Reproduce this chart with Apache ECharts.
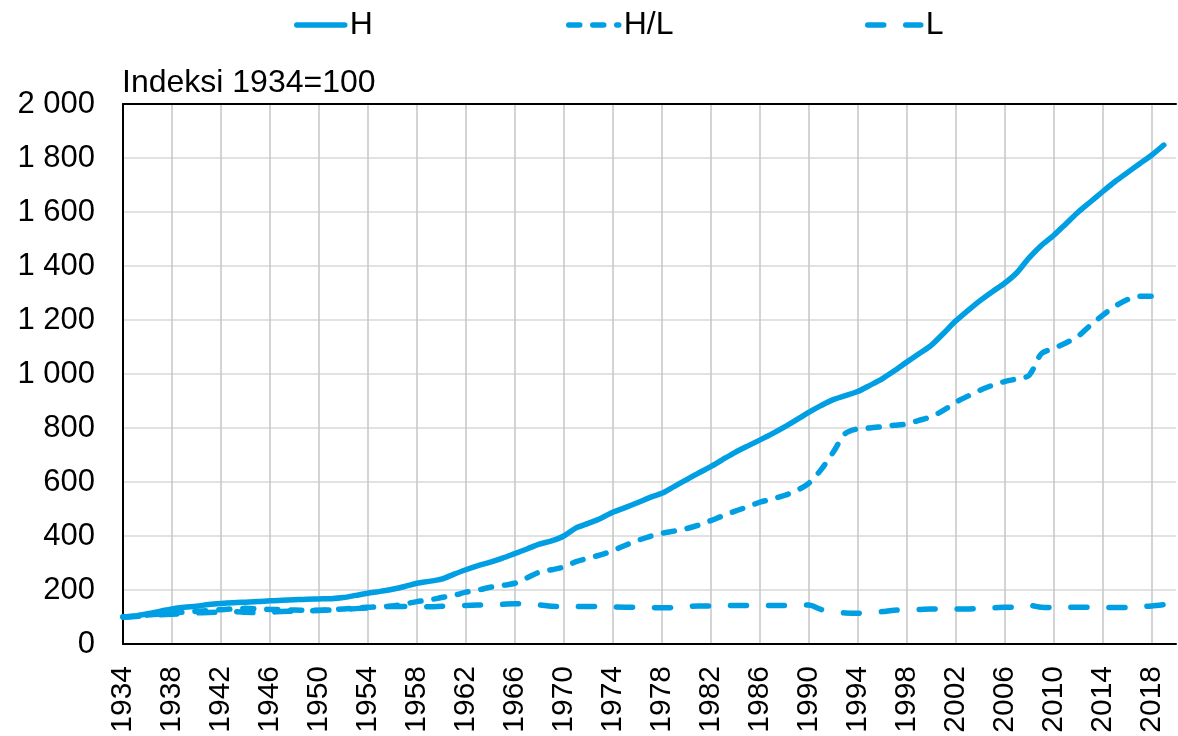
<!DOCTYPE html>
<html>
<head>
<meta charset="utf-8">
<script src="https://cdn.jsdelivr.net/npm/echarts@6/dist/echarts.min.js"></script>
<style>
  html, body { margin: 0; padding: 0; background: #ffffff; }
  #chart { width: 1178px; height: 736px; }
</style>
</head>
<body>
<div id="chart"></div>
<script>
/* ===== data ===== */
const years = [];
for (let y = 1934; y <= 2020; y++) years.push(String(y));

const seriesH = [
  100, 104, 112, 121, 130, 136, 140, 146, 150, 153,
  155, 157, 160, 162, 164, 166, 167, 168, 172, 180,
  188, 195, 203, 213, 225, 232, 240, 258, 275, 290,
  303, 318, 335, 352, 370, 382, 400, 430, 447, 465,
  488, 505, 523, 542, 558, 583, 608, 633, 657, 684,
  710, 733, 755, 778, 803, 830, 858, 883, 905, 920,
  935, 958, 982, 1012, 1044, 1075, 1106, 1150, 1196, 1235,
  1272, 1305, 1336, 1375, 1430, 1476, 1513, 1556, 1599, 1637,
  1675, 1712, 1745, 1778, 1810, 1848
];

const seriesHL = [
  100, 103, 107, 111, 115, 118, 121, 124, 127, 130,
  132, 130, 128, 127, 126, 125, 125, 127, 130, 133,
  136, 138, 141, 148, 157, 163, 172, 180, 192, 200,
  210, 217, 225, 245, 266, 275, 285, 305, 318, 330,
  346, 365, 383, 398, 410, 418, 427, 440, 457, 475,
  492, 508, 525, 537, 550, 568, 595, 645, 710, 780,
  797, 800, 805, 810, 815, 828, 842, 865, 895, 918,
  940, 958, 972, 982, 995, 1075, 1095, 1115, 1140, 1180,
  1217, 1250, 1275, 1288, 1288, 1290
];

const seriesL = [
  100, 102, 105, 108, 110, 113, 115, 117, 118, 120,
  118, 116, 118, 120, 122, 123, 124, 126, 128, 131,
  134, 137, 139, 139, 138, 138, 140, 142, 143, 144,
  145, 147, 149, 148, 145, 140, 139, 139, 139, 139,
  137, 136, 136, 135, 134, 135, 138, 141, 141, 142,
  143, 143, 143, 143, 143, 144, 144, 128, 119, 115,
  114, 117, 120, 125, 127, 128, 130, 130, 130, 130,
  132, 134, 136, 137, 143, 136, 135, 136, 136, 136,
  135, 135, 135, 138, 141, 146
];

const seriesNames = ['H', 'H/L', 'L'];
const yTicks = { min: 0, max: 2000, step: 200 };

/* ===== style ===== */
const theme = {
  blue: '#009fe3',
  text: '#000000',
  grid: '#d9d9d9',
  vgrid: '#c6c6c6',
  font: "'Liberation Sans', Arial, sans-serif",
};

function fmtThousands(v) {
  return String(v).replace(/\B(?=(\d{3})+(?!\d))/g, ' ');
}

// every 4th year gets a label and a grid line
const everyFourth = idx => idx % 4 === 0;

function lineSeries(name, data, dash) {
  return {
    name: name,
    type: 'line',
    data: data,
    symbol: 'none',
    smooth: 0.3,
    lineStyle: {
      color: theme.blue,
      width: 5.5,
      type: dash || 'solid',
      cap: 'round',
      join: 'round',
    },
    itemStyle: { color: theme.blue },
  };
}

function legendAt(left, name, width) {
  return {
    left: left,
    top: 4,
    data: [name],
    itemWidth: width,
    itemHeight: 14,
    itemGap: 0,
    itemStyle: { opacity: 0 },
    lineStyle: { width: 5.5, cap: 'round' },
    textStyle: { color: theme.text, fontSize: 32, fontFamily: theme.font },
    selectedMode: false,
  };
}

const chart = echarts.init(document.getElementById('chart'), null, { renderer: 'canvas' });
chart.setOption({
  backgroundColor: '#ffffff',
  animation: false,
  title: {
    text: 'Indeksi 1934=100',
    left: 122,
    top: 67,
    padding: 0,
    textStyle: { color: theme.text, fontSize: 32, fontWeight: 'normal', fontFamily: theme.font },
  },
  legend: [
    legendAt(289, 'H', 48),
    legendAt(561, 'H/L', 50),
    legendAt(860, 'L', 53),
  ],
  grid: { left: 123, right: 2, top: 104, bottom: 92, containLabel: false },
  xAxis: [
    {
      type: 'category',
      data: years,
      boundaryGap: false,
      axisLine: { show: true, lineStyle: { color: theme.text, width: 2 } },
      axisTick: { show: false, interval: everyFourth },
      axisLabel: {
        interval: everyFourth,
        rotate: 90,
        margin: 22,
        color: theme.text,
        fontSize: 30,
        fontFamily: theme.font,
      },
      splitLine: {
        show: true,
        interval: everyFourth,
        lineStyle: { color: theme.vgrid, width: 1.5 },
      },
    },
    {
      type: 'category',
      data: years,
      boundaryGap: false,
      position: 'top',
      axisLine: { show: true, lineStyle: { color: theme.text, width: 2 } },
      axisTick: { show: false },
      axisLabel: { show: false },
      splitLine: { show: false },
    },
  ],
  yAxis: {
    type: 'value',
    min: yTicks.min,
    max: yTicks.max,
    interval: yTicks.step,
    axisLine: { show: true, lineStyle: { color: theme.text, width: 2 } },
    axisTick: { show: false },
    axisLabel: {
      color: theme.text,
      fontSize: 31,
      fontFamily: theme.font,
      margin: 28,
      formatter: v => fmtThousands(v),
    },
    splitLine: { show: true, lineStyle: { color: theme.grid, width: 1.5 } },
  },
  series: [
    lineSeries(seriesNames[0], seriesH),
    lineSeries(seriesNames[1], seriesHL, [11, 13]),
    lineSeries(seriesNames[2], seriesL, [16, 22]),
  ],
});

window.addEventListener('resize', () => chart.resize());
</script>
</body>
</html>
